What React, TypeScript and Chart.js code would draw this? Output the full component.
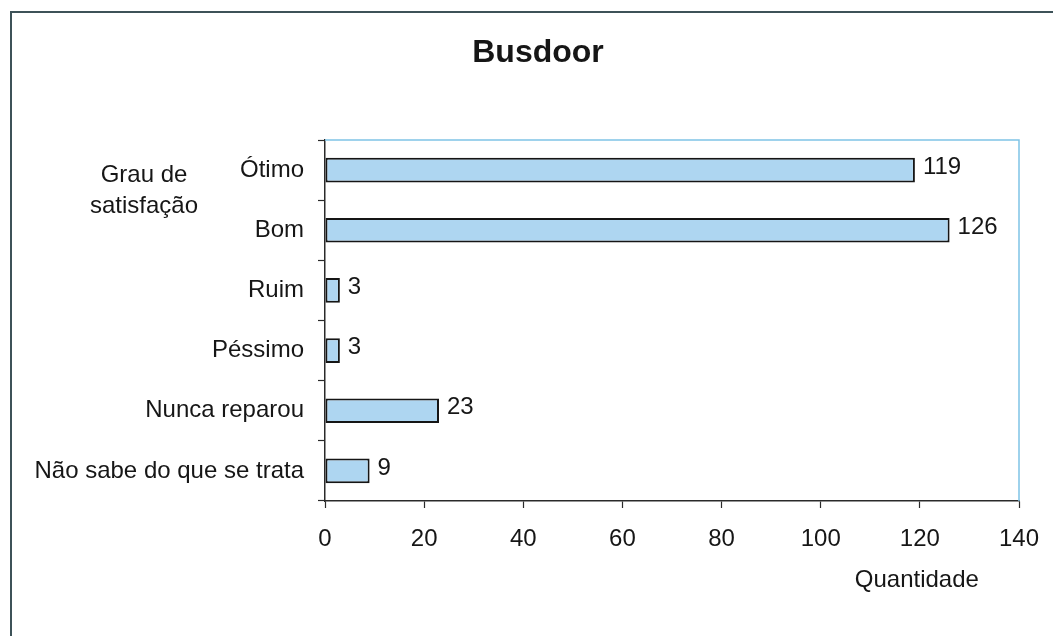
import React, { useEffect, useRef } from "react";
import { Chart, registerables } from "chart.js";

Chart.register(...registerables);

const categories = [
  "Ótimo",
  "Bom",
  "Ruim",
  "Péssimo",
  "Nunca reparou",
  "Não sabe do que se trata",
];
const quantities = [119, 126, 3, 3, 23, 9];
const xTicks = [0, 20, 40, 60, 80, 100, 120, 140];

const chartTitle = "Busdoor";
const yTitleLines = ["Grau de", "satisfação"];
const xTitle = "Quantidade";

const FONT = "'Liberation Sans', Arial, sans-serif";
const TEXT = "#161616";

const decorPlugin = {
  id: "decor",
  beforeDraw(chart: any) {
    const ctx = chart.ctx;
    ctx.save();
    ctx.fillStyle = "#ffffff";
    ctx.fillRect(0, 0, chart.width, chart.height);
    // outer frame (top and left edges visible)
    ctx.strokeStyle = "#3d5258";
    ctx.lineWidth = 2;
    ctx.beginPath();
    ctx.moveTo(chart.width, 12);
    ctx.lineTo(11, 12);
    ctx.lineTo(11, chart.height);
    ctx.stroke();
    ctx.restore();
  },
  afterDraw(chart: any) {
    const ctx = chart.ctx;
    const area = chart.chartArea;
    const xs = chart.scales.x;
    ctx.save();
    // light blue top/right plot border
    ctx.strokeStyle = "#7fc3e6";
    ctx.lineWidth = 1.5;
    ctx.beginPath();
    ctx.moveTo(area.left, area.top);
    ctx.lineTo(area.right, area.top);
    ctx.lineTo(area.right, area.bottom);
    ctx.stroke();

    // title
    ctx.fillStyle = TEXT;
    ctx.font = `bold 32px ${FONT}`;
    ctx.textAlign = "center";
    ctx.textBaseline = "middle";
    ctx.fillText(chartTitle, 538, 53);

    // axis titles
    ctx.font = `24px ${FONT}`;
    ctx.fillText(yTitleLines[0], 144, 175);
    ctx.fillText(yTitleLines[1], 144, 206);
    ctx.fillText(xTitle, xs.getPixelForValue(120) - 3, 580);

    // value labels
    ctx.textAlign = "left";
    const meta = chart.getDatasetMeta(0);
    meta.data.forEach((bar: any, i: number) => {
      ctx.fillText(String(quantities[i]), bar.x + 8, bar.y - 3);
    });
    ctx.restore();
  },
};

export default function App() {
  const ref = useRef<HTMLCanvasElement>(null);

  useEffect(() => {
    if (!ref.current) return;
    const chart = new Chart(ref.current, {
      type: "bar",
      data: {
        labels: categories,
        datasets: [
          {
            data: quantities,
            backgroundColor: "#aed6f1",
            borderColor: "#151515",
            borderWidth: 2,
            borderSkipped: false,
            barPercentage: 0.82,
            categoryPercentage: 0.5,
          },
        ],
      },
      options: {
        indexAxis: "y",
        animation: false,
        responsive: false,
        maintainAspectRatio: false,
        layout: { padding: { left: 20, right: 34, top: 140, bottom: 85 } },
        plugins: {
          legend: { display: false },
          title: { display: false },
          tooltip: { enabled: false },
        },
        scales: {
          x: {
            min: 0,
            max: 140,
            afterBuildTicks(scale: any) {
              scale.ticks = xTicks.map((v) => ({ value: v }));
            },
            afterFit(scale: any) {
              scale.height = 50;
              scale.paddingLeft = 0;
              scale.paddingRight = 0;
            },
            grid: {
              drawOnChartArea: false,
              drawTicks: true,
              tickLength: 7,
              tickColor: "#2a2a2a",
              tickWidth: 1.2,
            },
            border: { color: "#2a2a2a", width: 1.5 },
            ticks: {
              color: TEXT,
              padding: 17,
              maxRotation: 0,
              font: { family: FONT, size: 24 },
            },
          },
          y: {
            afterFit(scale: any) {
              scale.width = 305;
            },
            grid: {
              offset: true,
              drawOnChartArea: false,
              drawTicks: true,
              tickLength: 7,
              tickColor: "#2a2a2a",
              tickWidth: 1.2,
            },
            border: { color: "#2a2a2a", width: 1.5 },
            ticks: {
              color: TEXT,
              padding: 14,
              font: { family: FONT, size: 24 },
            },
          },
        },
      },
      plugins: [decorPlugin],
    });
    return () => chart.destroy();
  }, []);

  return (
    <div style={{ position: "fixed", left: 0, top: 0, width: 1053, height: 636 }}>
      <canvas ref={ref} width={1053} height={636} />
    </div>
  );
}
